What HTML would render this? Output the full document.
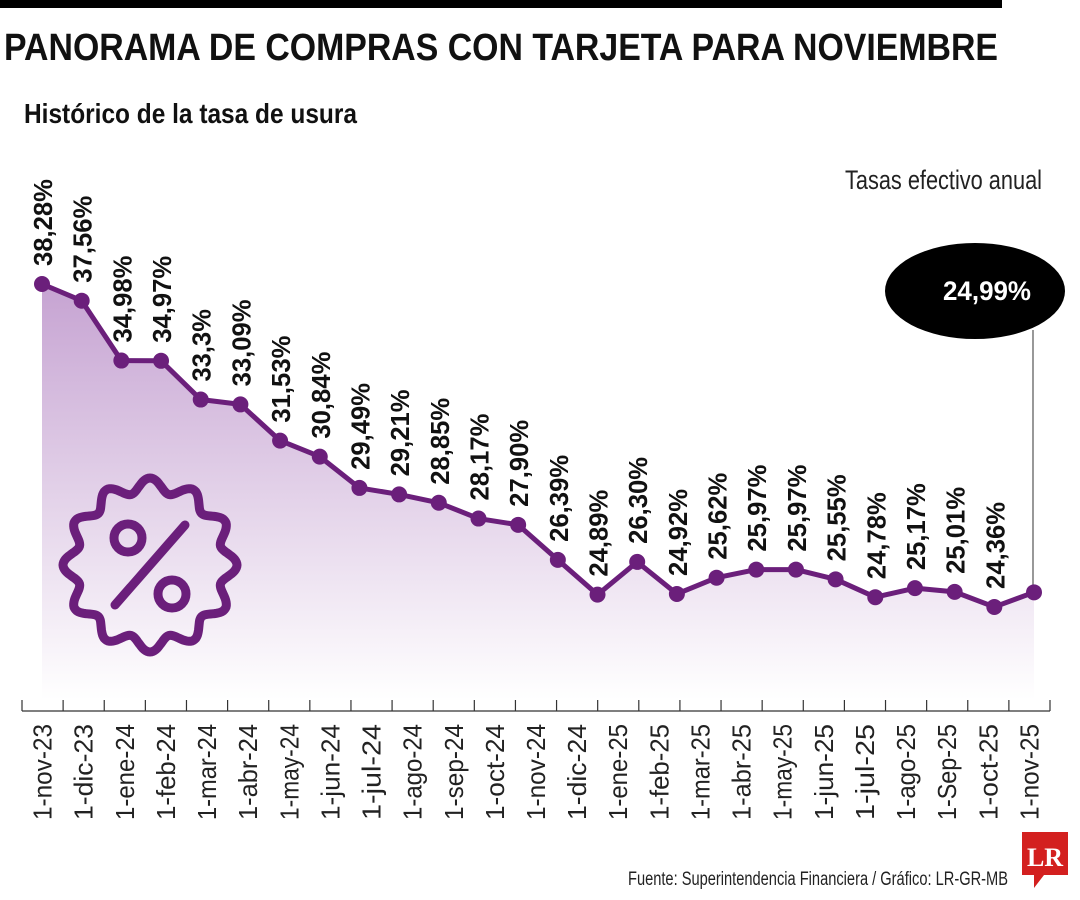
<!DOCTYPE html>
<html><head><meta charset="utf-8"><style>
body{margin:0;background:#fff;width:1080px;height:900px;overflow:hidden;font-family:"Liberation Sans Narrow","Liberation Sans",sans-serif}
svg{display:block}
</style></head><body>
<svg width="1080" height="900" id="c">
<rect x="0" y="0" width="1002" height="8" fill="#000"/>
<text x="4" y="60" font-size="38" font-weight="bold" fill="#111" textLength="994" lengthAdjust="spacingAndGlyphs">PANORAMA DE COMPRAS CON TARJETA PARA NOVIEMBRE</text>
<text x="24" y="123" font-size="28" font-weight="bold" fill="#111" textLength="333" lengthAdjust="spacingAndGlyphs">Histórico de la tasa de usura</text>
<text x="845" y="189" font-size="27" fill="#222" textLength="197" lengthAdjust="spacingAndGlyphs">Tasas efectivo anual</text>
<defs><linearGradient id="g" x1="0" y1="0" x2="0" y2="1"><stop offset="0" stop-color="#c6a3d2"/><stop offset="1" stop-color="#ffffff"/></linearGradient></defs>
<g id="plot"></g>
<text x="628" y="885" font-size="19" fill="#222" textLength="380" lengthAdjust="spacingAndGlyphs">Fuente: Superintendencia Financiera / Gráfico: LR-GR-MB</text>
<g><path d="M1022 832 H1068 V875 H1044 L1034 888 V875 H1022 Z" fill="#d3201f"/><text x="1045" y="866" font-size="26" font-weight="bold" font-family="Liberation Serif,serif" fill="#fff" text-anchor="middle">LR</text></g>
</svg>
<script>
const values=[38.28,37.56,34.98,34.97,33.3,33.09,31.53,30.84,29.49,29.21,28.85,28.17,27.90,26.39,24.89,26.30,24.92,25.62,25.97,25.97,25.55,24.78,25.17,25.01,24.36,24.99];
const labels=["38,28%","37,56%","34,98%","34,97%","33,3%","33,09%","31,53%","30,84%","29,49%","29,21%","28,85%","28,17%","27,90%","26,39%","24,89%","26,30%","24,92%","25,62%","25,97%","25,97%","25,55%","24,78%","25,17%","25,01%","24,36%","24,99%"];
const months=["1-nov-23","1-dic-23","1-ene-24","1-feb-24","1-mar-24","1-abr-24","1-may-24","1-jun-24","1-jul-24","1-ago-24","1-sep-24","1-oct-24","1-nov-24","1-dic-24","1-ene-25","1-feb-25","1-mar-25","1-abr-25","1-may-25","1-jun-25","1-jul-25","1-ago-25","1-Sep-25","1-oct-25","1-nov-25"];
const NS="http://www.w3.org/2000/svg";
const P=document.getElementById('plot');
function mk(t,a,p){const e=document.createElementNS(NS,t);for(const k in a)e.setAttribute(k,a[k]);(p||P).appendChild(e);return e;}
const X=i=>42+i*(1034-42)/(values.length-1);
const Y=v=>284+(38.28-v)*23.2;
const base=700;
let d=`M${X(0)} ${base}`;values.forEach((v,i)=>d+=` L${X(i)} ${Y(v)}`);d+=` L${X(values.length-1)} ${base} Z`;
let a=mk('path',{d:d,fill:'url(#g)'});


let bp='';for(let k=0;k<=360;k++){const t=k*Math.PI/180;const r=80+7*Math.cos(12*t);bp+=(k?'L':'M')+(150+r*Math.cos(t)).toFixed(1)+' '+(565+r*Math.sin(t)).toFixed(1);}
let b=mk('path',{d:bp+'Z',fill:'none',stroke:'#6b1f7b','stroke-width':9});


mk('circle',{cx:128,cy:538,r:14,fill:'none',stroke:'#6b1f7b','stroke-width':9});
mk('circle',{cx:172,cy:594,r:14,fill:'none',stroke:'#6b1f7b','stroke-width':9});
mk('line',{x1:115,y1:605,x2:185,y2:525,stroke:'#6b1f7b','stroke-width':9,'stroke-linecap':'round'});
let ld='';values.forEach((v,i)=>ld+=(i?' L':'M')+X(i)+' '+Y(v));
let ln=mk('path',{d:ld,fill:'none',stroke:'#6b1f7b','stroke-width':5,'stroke-linejoin':'round'});


const last=values.length-1;
let con=mk('line',{x1:X(last)-1,y1:330,x2:X(last)-1,y2:Y(values[last]),stroke:'#555','stroke-width':1.2});


values.forEach((v,i)=>{
  const c=mk('circle',{cx:X(i),cy:Y(v),r:8,fill:'#6b1f7b'});
  
  
  if(i<last){
    const t=mk('text',{x:0,y:0,transform:`translate(${X(i)+10},${Y(v)-18}) rotate(-90)`,'font-size':26,'font-weight':'bold',fill:'#111',textLength:labels[i].length*14.5,lengthAdjust:'spacingAndGlyphs'});
    t.textContent=labels[i];
    
    
  }
});
let el=mk('ellipse',{cx:975,cy:291,rx:90,ry:48,fill:'#000'});


let ct=mk('text',{x:987,y:300,'font-size':27,'font-weight':'bold',fill:'#fff','text-anchor':'middle',textLength:88,lengthAdjust:'spacingAndGlyphs'});
ct.textContent=labels[last];


const step=(1050-22)/months.length;
let ax=mk('line',{x1:22,y1:711,x2:1050,y2:711,stroke:'#333','stroke-width':1.2});


for(let k=0;k<=months.length;k++){mk('line',{x1:22+k*step,y1:700,x2:22+k*step,y2:711,stroke:'#333','stroke-width':1.2});}
months.forEach((m,k)=>{
  const cx=22+(k+0.5)*step;
  const t=mk('text',{x:0,y:0,transform:`translate(${cx+9},${724}) rotate(-90)`,'font-size':26,'text-anchor':'end',fill:'#222',textLength:m.length*12,lengthAdjust:'spacingAndGlyphs'});
  t.textContent=m;
  
  
});
</script>
</body></html>
